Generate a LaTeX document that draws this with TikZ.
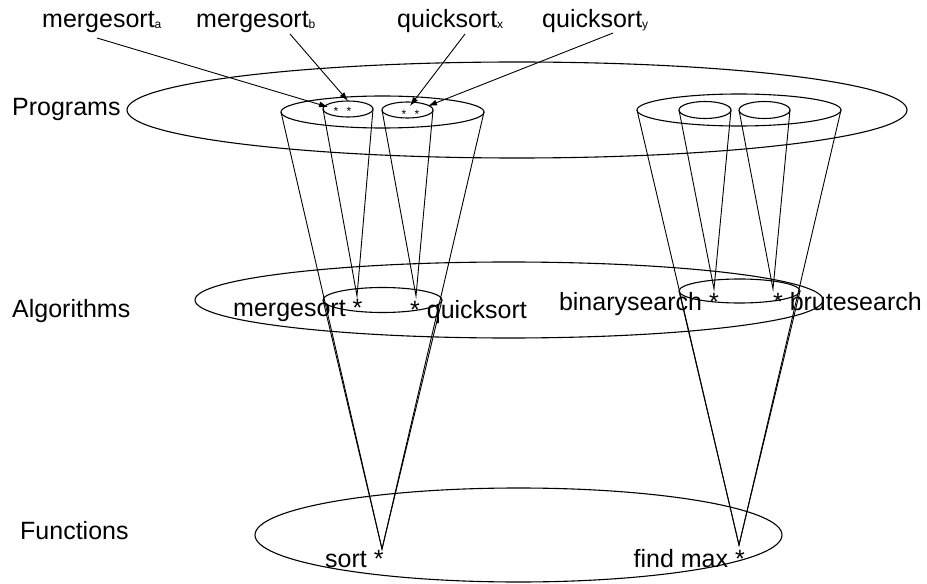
\documentclass[tikz,border=0pt]{standalone}
\usepackage{fontspec}
\setmainfont{Liberation Sans}
\usetikzlibrary{arrows.meta}
\begin{document}
\begin{tikzpicture}[x=1bp,y=-1bp,
  ring/.style={draw=black,line width=1.1bp},
  coneline/.style={draw=black,line width=0.9bp},
  arr/.style={draw=black,line width=0.9bp,-{Latex[length=9bp,width=6bp]}},
  lbl/.style={inner sep=0pt,font=\fontsize{25bp}{30bp}\selectfont},
  tiny/.style={inner sep=0pt,anchor=base,font=\fontsize{12bp}{12bp}\selectfont}]
\useasboundingbox (0,0) rectangle (927,584);
\newcommand{\sbs}[1]{\raisebox{-1bp}{\fontsize{12bp}{12bp}\selectfont #1}}

% level ellipses
\draw[ring] (517,110) ellipse [x radius=390bp, y radius=48bp];
\draw[ring] (509,300) ellipse [x radius=314bp, y radius=38bp];
\draw[ring] (518.5,535) ellipse [x radius=263.5bp, y radius=47bp];

% left group
\draw[ring] (382.5,112) ellipse [x radius=101.5bp, y radius=16bp];
\draw[ring] (348,109) ellipse [x radius=25bp, y radius=8bp];
\draw[ring] (407.5,110) ellipse [x radius=25.5bp, y radius=8bp];
\draw[ring] (382.5,300) ellipse [x radius=59.5bp, y radius=12.5bp];

% right group
\draw[ring] (739,110) ellipse [x radius=102bp, y radius=16bp];
\draw[ring] (705,110) ellipse [x radius=26bp, y radius=8.5bp];
\draw[ring] (764.5,110) ellipse [x radius=25.5bp, y radius=8.5bp];
\draw[ring] (739.5,291) ellipse [x radius=60.5bp, y radius=12bp];

% cone tips
\coordinate (tsort) at (382,549);
\coordinate (tfind) at (739,545);
\coordinate (tmerge) at (357,296);
\coordinate (tquick) at (416,296);
\coordinate (tbin) at (714,289);
\coordinate (tbrute) at (773,289);

% cones
\draw[coneline] (281,112) -- (tsort) -- (484,112);
\draw[coneline] (323,300) -- (tsort) -- (442,300);
\draw[coneline] (323,109) -- (tmerge) -- (373,109);
\draw[coneline] (382,110) -- (tquick) -- (433,110);
\draw[coneline] (637,110) -- (tfind) -- (841,110);
\draw[coneline] (679,291) -- (tfind) -- (800,291);
\draw[coneline] (679,110) -- (tbin) -- (731,110);
\draw[coneline] (739,110) -- (tbrute) -- (790,110);

% level labels
\node[lbl,anchor=base west] (prog) at (12,116) {Programs};
\node[lbl,anchor=base west] (alg) at (12,317) {Algorithms};
\node[lbl,anchor=base west] (fun) at (20,539) {Functions};

% algorithm labels
\node[lbl,anchor=base west] (ms) at (233,316) {mergesort *};
\node[lbl,anchor=base west] (qs) at (410,318) {* quicksort};
\node[lbl,anchor=base east] (bs) at (719,310) {binarysearch *};
\node[lbl,anchor=base east] (br) at (922,310) {* brutesearch};

% function labels
\node[lbl,anchor=base west] (so) at (325,567) {sort *};
\node[lbl,anchor=base east] (fm) at (745,567) {find max *};

% program stars
\node[tiny] (sa) at (336,116) {*};
\node[tiny] (sb) at (349,116) {*};
\node[tiny] (sx) at (404,119) {*};
\node[tiny] (sy) at (417,119) {*};

% program labels
\node[lbl,anchor=base west] (pa) at (42,28) {mergesort\sbs{a}};
\node[lbl,anchor=base west] (pb) at (196,28) {mergesort\sbs{b}};
\node[lbl,anchor=base west] (px) at (397,28) {quicksort\sbs{x}};
\node[lbl,anchor=base west] (py) at (542,28) {quicksort\sbs{y}};

% arrow start/end points
\coordinate (a0) at (97,38);   \coordinate (a1) at (328,107);
\coordinate (b0) at (290,34);  \coordinate (b1) at (348,101);
\coordinate (x0) at (465,34);  \coordinate (x1) at (410,106);
\coordinate (y0) at (613,33);  \coordinate (y1) at (428,106);
\draw[arr] (a0) -- (a1);
\draw[arr] (b0) -- (b1);
\draw[arr] (x0) -- (x1);
\draw[arr] (y0) -- (y1);
\end{tikzpicture}
\end{document}
